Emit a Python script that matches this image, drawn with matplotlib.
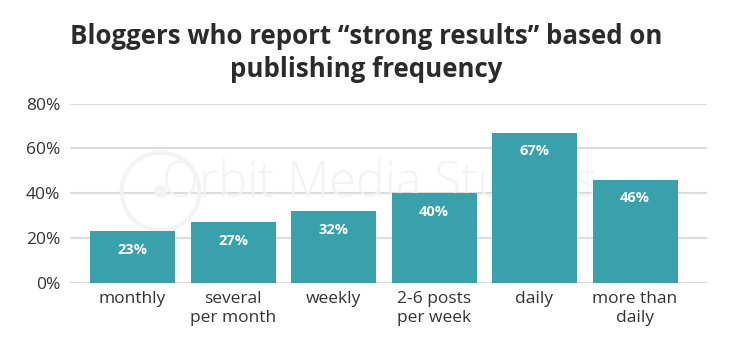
import numpy as np
import matplotlib
matplotlib.use("Agg")
import matplotlib.pyplot as plt

# data
categories = ["monthly", "several\nper month", "weekly", "2-6 posts\nper week",
              "daily", "more than\ndaily"]
values = [23, 27, 32, 40, 67, 46]
y_ticks = [0, 20, 40, 60, 80]

plt.rcParams['font.family'] = ['Open Sans', 'DejaVu Sans']

fig = plt.figure(figsize=(7.31, 3.63), dpi=100)
# axes box in pixels: left 70, right 707, bottom (0%) 283, top (80%) 103.5
W, H = 731, 363
ax = fig.add_axes([70 / W, 1 - 283 / H, (707 - 70) / W, (283 - 103.5) / H])

x = np.arange(len(values))
bar_col = "#38a1ac"
ax.bar(x, values, width=0.846, color=bar_col, zorder=3)

for xi, v in zip(x, values):
    ax.text(xi, v - 8.3, f"{v}%", ha="center", va="center", color="white",
            fontsize=10.5, fontweight="bold", zorder=4)

ax.set_xlim(-0.622, 5.716)
ax.set_ylim(0, 80)
ax.set_yticks(y_ticks)
ax.set_yticklabels([f"{t}%" for t in y_ticks], fontsize=12.5, color="#333333")
ax.set_xticks(x)
ax.set_xticklabels(categories, fontsize=12.5, color="#333333", linespacing=1.25)
ax.tick_params(length=0, axis="y", pad=7)
ax.tick_params(length=0, axis="x", pad=6)
ax.grid(axis="y", color="#dcdcdc", linewidth=1.6, zorder=0)
for s in ax.spines.values():
    s.set_visible(False)
ax.set_axisbelow(True)

# faint watermark behind the bars
wm = "#f3f3f3"
ax.text(380 / W, 1 - 184 / H, "Orbit Media Studios", ha="center", va="center",
        fontsize=35, color=wm, fontweight="light", transform=fig.transFigure,
        zorder=1)
ax.plot([160 / W], [1 - 191 / H], marker="o", markersize=56, mfc="none",
        mec=wm, mew=3, transform=fig.transFigure, clip_on=False, zorder=1)
ax.plot([160 / W], [1 - 191 / H], marker="o", markersize=8, color=wm,
        transform=fig.transFigure, clip_on=False, zorder=1)

fig.text(366 / W, 1 - 53 / H,
         "Bloggers who report \u201cstrong results\u201d based on\npublishing frequency",
         ha="center", va="center", fontsize=18.6, fontweight="bold",
         color="#2b2b2b", linespacing=1.33)

fig.savefig("out.png", dpi=100)
